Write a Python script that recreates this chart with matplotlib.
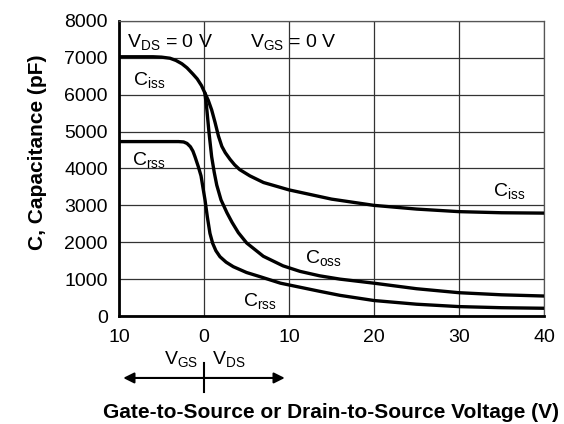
"""Capacitance vs. gate-to-source / drain-to-source voltage."""

import matplotlib
matplotlib.use("Agg")
import matplotlib.pyplot as plt

plt.rcParams["font.family"] = ["Liberation Sans", "DejaVu Sans"]
plt.rcParams["mathtext.fontset"] = "custom"
plt.rcParams["mathtext.rm"] = "Liberation Sans"
plt.rcParams["mathtext.it"] = "Liberation Sans"

# Negative x = V_GS side, positive x = V_DS side.
ciss_v = [-10, -6, -5, -4, -3.3, -2.6, -2, -1.3, -0.8, -0.3, 0.1, 0.5, 0.9,
          1.3, 1.7, 2.1, 2.5, 3.06, 3.6, 4.2, 5.4, 7, 10, 15, 20, 25, 30, 35,
          40]
ciss_pf = [7030, 7030, 7020, 6990, 6930, 6840, 6730, 6560, 6430, 6250, 6050,
           5850, 5590, 5250, 4880, 4600, 4430, 4250, 4100, 3970, 3800, 3620,
           3420, 3170, 3000, 2900, 2830, 2800, 2790]

coss_v = [0.1, 0.3, 0.6, 0.9, 1.2, 1.5, 2.0, 2.7, 3.3, 4.04, 5.02, 6.98,
          9.3, 11.3, 13.6, 16, 20, 25, 30, 35, 40]
coss_pf = [6050, 5680, 4950, 4320, 3900, 3550, 3150, 2800, 2540, 2260, 1980,
           1620, 1360, 1210, 1090, 1000, 890, 740, 632, 575, 542]

crss_v = [-10, -3, -2.4, -2, -1.6, -1.3, -1.06, -0.67, -0.35, -0.1, 0.12,
          0.39, 0.7, 1.02, 1.4, 1.88, 2.6, 3.45, 5, 6.6, 9, 11.3, 13.6, 16,
          20, 25, 30, 35, 40]
crss_pf = [4730, 4730, 4720, 4680, 4590, 4470, 4320, 4050, 3800, 3450, 3146,
           2692, 2242, 1971, 1770, 1608, 1460, 1337, 1180, 1066, 890, 780,
           670, 560, 420, 320, 255, 225, 210]

x_ticks = [-10, 0, 10, 20, 30, 40]
x_tick_labels = ["10", "0", "10", "20", "30", "40"]
y_ticks = [0, 1000, 2000, 3000, 4000, 5000, 6000, 7000, 8000]

fig = plt.figure(figsize=(5.64, 4.24), dpi=100)
ax = fig.add_axes([0.211, 0.2547, 0.7535, 0.6958])

for xs, ys in ((ciss_v, ciss_pf), (coss_v, coss_pf), (crss_v, crss_pf)):
    ax.plot(xs, ys, color="black", linewidth=2.4, solid_capstyle="round",
            solid_joinstyle="round", zorder=3)

ax.set_xlim(-10, 40)
ax.set_ylim(0, 8000)
ax.set_xticks(x_ticks)
ax.set_xticklabels(x_tick_labels)
ax.set_yticks(y_ticks)
ax.tick_params(length=0, labelsize=14, pad=8)
ax.tick_params(axis="x", pad=9)
ax.grid(True, color="#333333", linewidth=0.9)

for side in ("left", "bottom"):
    ax.spines[side].set_linewidth(2.0)
    ax.spines[side].set_color("black")
for side in ("top", "right"):
    ax.spines[side].set_linewidth(0.9)
    ax.spines[side].set_color("#555555")

# Curve labels
label_kw = dict(fontsize=14, va="center", ha="left")
ax.text(-8.35, 6400, r"C$_{\mathrm{iss}}$", **label_kw)
ax.text(-8.5, 4230, r"C$_{\mathrm{rss}}$", **label_kw)
ax.text(4.6, 400, r"C$_{\mathrm{rss}}$", **label_kw)
ax.text(11.9, 1560, r"C$_{\mathrm{oss}}$", **label_kw)
ax.text(34.0, 3400, r"C$_{\mathrm{iss}}$", **label_kw)

ax.text(-9.1, 7430, r"V$_{\mathrm{DS}}$ = 0 V", fontsize=14, va="center")
ax.text(5.4, 7430, r"V$_{\mathrm{GS}}$ = 0 V", fontsize=14, va="center")

# V_GS / V_DS direction marker under the axis
trans = ax.get_xaxis_transform()
for end in (-9.5, 9.5):
    ax.annotate("", xy=(end, -0.21), xytext=(0, -0.21), xycoords=trans,
                textcoords=trans, annotation_clip=False,
                arrowprops=dict(arrowstyle="-|>", color="black", lw=1.5,
                                mutation_scale=16, shrinkA=0, shrinkB=0))
ax.plot([0, 0], [-0.159, -0.258], transform=trans, color="black", lw=1.5,
        clip_on=False)
ax.text(-0.7, -0.145, r"V$_{\mathrm{GS}}$", transform=trans, fontsize=14,
        ha="right", va="center")
ax.text(1.0, -0.145, r"V$_{\mathrm{DS}}$", transform=trans, fontsize=14,
        ha="left", va="center")

fig.text(0.587, 0.026, "Gate-to-Source or Drain-to-Source Voltage (V)",
         fontsize=15, fontweight="bold", ha="center", va="center")
fig.text(0.067, 0.640, "C, Capacitance (pF)", fontsize=15,
         fontweight="bold", rotation=90, ha="center", va="center")

fig.savefig("out.png", dpi=100)
